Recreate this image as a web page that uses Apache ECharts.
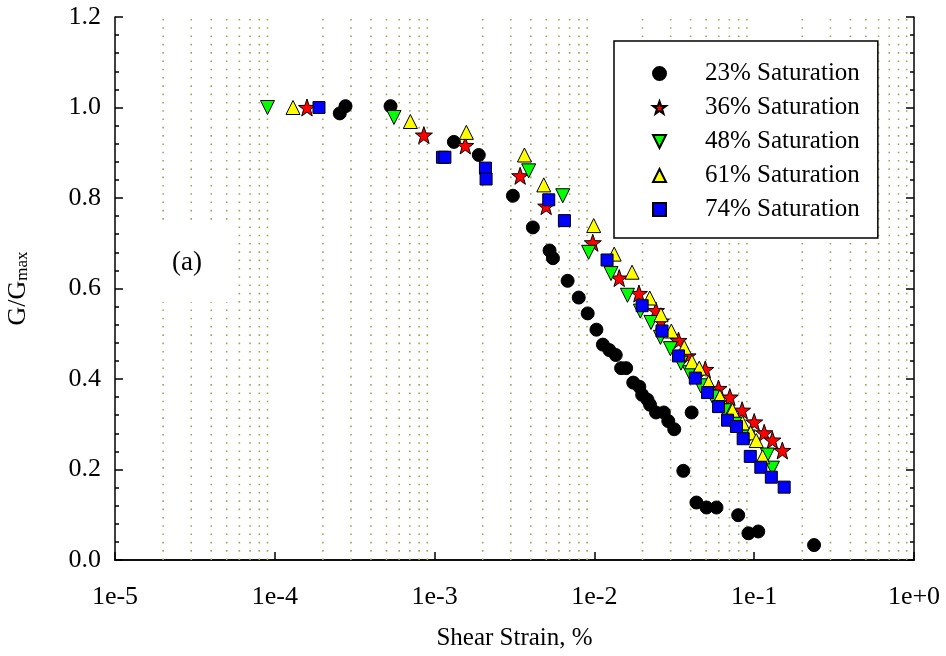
<!DOCTYPE html>
<html>
<head>
<meta charset="utf-8">
<script src="https://cdn.jsdelivr.net/npm/echarts@6/dist/echarts.min.js"></script>
<style>
  html, body { margin: 0; padding: 0; background: #fff; }
  #chart { width: 946px; height: 656px; }
</style>
</head>
<body>
<div id="chart"></div>
<script>
// Axis tick labels
const xTickLabels = ['1e-5', '1e-4', '1e-3', '1e-2', '1e-1', '1e+0'];
const yTickLabels = ['0.0', '0.2', '0.4', '0.6', '0.8', '1.0', '1.2'];

// Series names
const seriesNames = ['23% Saturation', '36% Saturation', '48% Saturation', '61% Saturation', '74% Saturation'];

// [shear strain (%), G/Gmax]
const sat23 = [
  [2.55e-4, 0.987], [2.77e-4, 1.003], [5.3e-4, 1.003], [1.32e-3, 0.924], [1.89e-3, 0.895],
  [3.09e-3, 0.805], [4.12e-3, 0.735], [5.24e-3, 0.684], [5.5e-3, 0.667], [6.8e-3, 0.617],
  [7.98e-3, 0.58], [9.08e-3, 0.545], [1.03e-2, 0.509], [1.13e-2, 0.476], [1.24e-2, 0.464],
  [1.36e-2, 0.453], [1.47e-2, 0.424], [1.58e-2, 0.424], [1.75e-2, 0.392], [1.91e-2, 0.383],
  [1.99e-2, 0.365], [2.15e-2, 0.354], [2.23e-2, 0.343], [2.43e-2, 0.326], [2.72e-2, 0.326],
  [2.9e-2, 0.307], [3.16e-2, 0.289], [4.06e-2, 0.326], [3.6e-2, 0.197], [4.35e-2, 0.127],
  [5.03e-2, 0.116], [5.81e-2, 0.116], [7.94e-2, 0.099], [9.2e-2, 0.059], [0.106, 0.063],
  [0.237, 0.033]
];
const sat36 = [
  [1.59e-4, 1.0], [8.57e-4, 0.939], [1.556e-3, 0.916], [3.43e-3, 0.849], [4.99e-3, 0.782],
  [9.77e-3, 0.701], [1.43e-2, 0.623], [1.9e-2, 0.589], [2.43e-2, 0.551], [2.61e-2, 0.528],
  [3.36e-2, 0.485], [3.83e-2, 0.451], [4.94e-2, 0.421], [5.98e-2, 0.379], [7.04e-2, 0.36],
  [8.4e-2, 0.331], [0.1, 0.305], [0.1155, 0.281], [0.13, 0.265], [0.15, 0.242]
];
const sat48 = [
  [9.0e-5, 1.0], [5.57e-4, 0.978], [3.88e-3, 0.86], [6.34e-3, 0.805], [9.2e-3, 0.68],
  [1.27e-2, 0.633], [1.61e-2, 0.585], [1.94e-2, 0.55], [2.26e-2, 0.525], [2.59e-2, 0.492],
  [2.99e-2, 0.467], [3.48e-2, 0.435], [3.94e-2, 0.414], [4.63e-2, 0.385], [5.5e-2, 0.36],
  [6.5e-2, 0.33], [7.8e-2, 0.3], [9.2e-2, 0.272], [0.121, 0.232], [0.13, 0.203]
];
const sat61 = [
  [1.3e-4, 1.0], [7.05e-4, 0.969], [1.58e-3, 0.945], [3.65e-3, 0.895], [4.82e-3, 0.829],
  [9.9e-3, 0.739], [1.33e-2, 0.676], [1.72e-2, 0.636], [2.22e-2, 0.579], [2.61e-2, 0.542],
  [3.03e-2, 0.506], [3.65e-2, 0.47], [4.08e-2, 0.438], [4.53e-2, 0.424], [5.18e-2, 0.392],
  [6.1e-2, 0.361], [7.31e-2, 0.331], [8.45e-2, 0.303], [9.5e-2, 0.281], [0.103, 0.264],
  [0.113, 0.228]
];
const sat74 = [
  [1.89e-4, 1.0], [1.12e-3, 0.89], [1.16e-3, 0.89], [2.08e-3, 0.866], [2.1e-3, 0.842],
  [5.18e-3, 0.796], [6.49e-3, 0.75], [1.2e-2, 0.663], [1.99e-2, 0.562], [2.65e-2, 0.506],
  [3.36e-2, 0.451], [4.28e-2, 0.402], [5.1e-2, 0.37], [5.98e-2, 0.339], [6.81e-2, 0.309],
  [7.74e-2, 0.295], [8.53e-2, 0.268], [9.45e-2, 0.229], [0.11, 0.205], [0.128, 0.183],
  [0.154, 0.161]
];

const FONT = "'Liberation Serif', 'Times New Roman', serif";

// Five-pointed star outline used as a marker
function starPath() {
  const pts = [];
  for (let i = 0; i < 10; i++) {
    const r = i % 2 === 0 ? 50 : 20;
    const a = -Math.PI / 2 + i * Math.PI / 5;
    pts.push((50 + r * Math.cos(a)).toFixed(2) + ' ' + (50 + r * Math.sin(a)).toFixed(2));
  }
  return 'path://M' + pts.join(' L') + ' Z';
}
// Point-down triangle filling its box
const DOWN_TRIANGLE = 'path://M0 0 L10 0 L5 10 Z';

// Dotted vertical guides at 2..9 within each decade
const decades = [1e-5, 1e-4, 1e-3, 1e-2, 1e-1];
const guideValues = [];
decades.forEach(d => { for (let m = 2; m <= 9; m++) guideValues.push(m * d); });

function xLabel(v) {
  const e = Math.round(Math.log10(v));
  return xTickLabels[e + 5] || '';
}
function yLabel(v) {
  const i = Math.round(v / 0.2);
  return yTickLabels[i] || '';
}

const guideSeries = guideValues.map(v => ({
  type: 'line', name: 'guide', data: [[v, 0], [v, 1.2]], z: 1, silent: true,
  symbol: 'none', animation: false,
  lineStyle: { color: '#a3a35c', type: [1.6, 6.7], width: 1.6 }
}));

function markers(name, data, z, symbol, size, color) {
  return {
    type: 'scatter', name: name, data: data, z: z, symbol: symbol, symbolSize: size,
    animation: false,
    itemStyle: { color: color, borderColor: '#000', borderWidth: 1, opacity: 1 }
  };
}

const chart = echarts.init(document.getElementById('chart'), null, { renderer: 'canvas' });
chart.setOption({
  backgroundColor: '#fff',
  animation: false,
  grid: { left: 115, right: 32, top: 17, bottom: 96, containLabel: false, outerBoundsMode: 'none' },
  xAxis: [{
    type: 'log', logBase: 10, min: 1e-5, max: 1,
    name: 'Shear Strain, %', nameLocation: 'middle', nameGap: 66,
    nameTextStyle: { fontFamily: FONT, fontSize: 25, color: '#000' },
    axisLine: { lineStyle: { color: '#000', width: 1.5 } },
    axisTick: { inside: true, length: 8, lineStyle: { color: '#000', width: 1.5 } },
    axisLabel: { formatter: xLabel, fontFamily: FONT, fontSize: 26, color: '#000', margin: 24 },
    splitLine: { show: false }
  }, {
    type: 'log', logBase: 10, min: 1e-5, max: 1, position: 'top',
    axisLine: { lineStyle: { color: '#000', width: 1.5 } },
    axisTick: { show: false }, axisLabel: { show: false }, splitLine: { show: false }
  }],
  yAxis: [{
    type: 'value', min: 0, max: 1.2, interval: 0.2,
    name: '{a|G/G}{b|max}', nameLocation: 'middle', nameGap: 84, nameRotate: 90,
    nameTextStyle: {
      rich: {
        a: { fontFamily: FONT, fontSize: 26, color: '#000', verticalAlign: 'bottom', lineHeight: 32 },
        b: { fontFamily: FONT, fontSize: 17, color: '#000', verticalAlign: 'bottom', lineHeight: 23 }
      }
    },
    axisLine: { lineStyle: { color: '#000', width: 1.5 } },
    axisTick: { inside: true, length: 8, lineStyle: { color: '#000', width: 1.5 } },
    minorTick: { show: true, splitNumber: 5, length: 4, lineStyle: { color: '#000', width: 1.5 } },
    axisLabel: { formatter: yLabel, fontFamily: FONT, fontSize: 26, color: '#000', margin: 14 },
    splitLine: { show: false }
  }, {
    type: 'value', min: 0, max: 1.2, interval: 0.2, position: 'right',
    axisLine: { lineStyle: { color: '#000', width: 1.5 } },
    axisTick: { inside: true, length: 8, lineStyle: { color: '#000', width: 1.5 } },
    minorTick: { show: true, splitNumber: 5, length: 4, lineStyle: { color: '#000', width: 1.5 } },
    axisLabel: { show: false }, splitLine: { show: false }
  }],
  legend: {
    data: seriesNames,
    orient: 'vertical', left: 614, top: 41,
    padding: [20, 18, 16, 38],
    itemWidth: 13, itemHeight: 13, itemGap: 9,
    backgroundColor: '#fff', borderColor: '#000', borderWidth: 1.5,
    textStyle: { fontFamily: FONT, fontSize: 25, color: '#000', lineHeight: 24, padding: [0, 0, 0, 34] },
    selectedMode: false
  },
  graphic: [{
    type: 'rect', z: 50, shape: { x: 150, y: 226, width: 86, height: 76 },
    style: { fill: '#fff' }
  }, {
    type: 'text', z: 51, left: 172, top: 249,
    style: { text: '(a)', font: '27px ' + FONT, fill: '#000' }
  }],
  series: guideSeries.concat([
    markers(seriesNames[0], sat23, 2, 'circle', 13, '#000000'),
    markers(seriesNames[1], sat36, 3, starPath(), 17, '#ff0000'),
    markers(seriesNames[2], sat48, 4, DOWN_TRIANGLE, 14, '#00ff00'),
    markers(seriesNames[3], sat61, 5, 'triangle', 14, '#ffff00'),
    markers(seriesNames[4], sat74, 6, 'rect', 12, '#0000ff')
  ])
});
</script>
</body>
</html>
